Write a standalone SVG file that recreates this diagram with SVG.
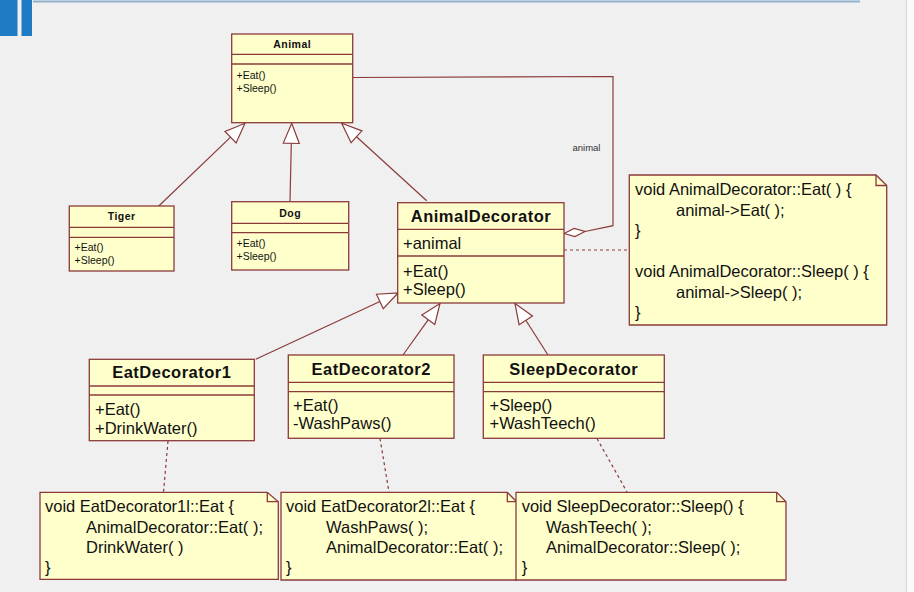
<svg xmlns="http://www.w3.org/2000/svg" width="914" height="592" viewBox="0 0 914 592">
<style>
.box{fill:#ffffcc;stroke:#8b3a3a;stroke-width:1.3}
.sep{stroke:#8b3a3a;stroke-width:1.3;fill:none}
.ln{stroke:#8b3a3a;stroke-width:1.2;fill:none}
.dash{stroke:#8b3a3a;stroke-width:1.2;fill:none;stroke-dasharray:3,3}
.tri{fill:#ffffff;stroke:#8b3a3a;stroke-width:1.2}
.sn{font-family:"Liberation Sans",Arial,sans-serif;font-size:10.5px;font-weight:bold;letter-spacing:0.5px;fill:#111;text-anchor:middle}
.sm{font-family:"Liberation Sans",Arial,sans-serif;font-size:10.5px;fill:#111}
.bn{font-family:"Liberation Sans",Arial,sans-serif;font-size:16.5px;font-weight:bold;letter-spacing:0.5px;fill:#111;text-anchor:middle}
.bm{font-family:"Liberation Sans",Arial,sans-serif;font-size:16.5px;fill:#111}
.lbl{font-family:"Liberation Sans",Arial,sans-serif;font-size:9.5px;fill:#333;text-anchor:middle}
</style>
<rect x="0" y="0" width="914" height="592" fill="#f0f0f0"/>
<rect x="906" y="0" width="8" height="592" fill="#fafafa"/>
<line x1="906.5" y1="0" x2="906.5" y2="592" stroke="#d6d6d6" stroke-width="1"/>
<rect x="0" y="0" width="17.5" height="36" fill="#1f7bc4"/>
<rect x="21.5" y="0" width="10.5" height="36" fill="#1f7bc4"/>
<line x1="33" y1="1.5" x2="860" y2="1.5" stroke="#8fb0cc" stroke-width="2"/>

<g id="connectors">
  <!-- generalizations -->
  <line class="ln" x1="158" y1="206.7" x2="230.6" y2="137.1"/>
  <polygon class="tri" points="245,123.3 236.1,142.9 225,131.4"/>
  <line class="ln" x1="290" y1="201.7" x2="291.3" y2="143.3"/>
  <polygon class="tri" points="291.7,123.3 299.3,143.5 283.3,143.1"/>
  <line class="ln" x1="426.7" y1="200.7" x2="356.5" y2="136.8"/>
  <polygon class="tri" points="341.7,123.3 361.9,130.85 351.1,142.7"/>
  <line class="ln" x1="255.7" y1="359.3" x2="379.9" y2="301.5"/>
  <polygon class="tri" points="398,293 383.25,308.7 376.5,294.2"/>
  <line class="ln" x1="403" y1="355" x2="428.3" y2="319.7"/>
  <polygon class="tri" points="440,303.5 434.8,324.4 421.8,315.1"/>
  <line class="ln" x1="548" y1="355" x2="525.8" y2="320.3"/>
  <polygon class="tri" points="515,303.5 532.5,316 519.1,324.7"/>
  <!-- association -->
  <polyline class="ln" points="353,77.5 613,76.5 613,225.7 585,231.5"/>
  <polygon class="tri" points="564,233.5 574.9,236.5 585,231.5 574.1,228.5"/>
  <text class="lbl" x="586.5" y="150.5">animal</text>
  <!-- note anchors -->
  <line class="dash" x1="564" y1="250" x2="629" y2="250"/>
  <line class="dash" x1="168" y1="441" x2="163.5" y2="492"/>
  <line class="dash" x1="380" y1="438.5" x2="389" y2="492"/>
  <line class="dash" x1="597" y1="438.5" x2="627" y2="492"/>
</g>

<g id="Animal">
  <rect class="box" x="231.7" y="34" width="121" height="88.7"/>
  <line class="sep" x1="231.7" y1="54.3" x2="352.7" y2="54.3"/>
  <line class="sep" x1="231.7" y1="64" x2="352.7" y2="64"/>
  <text class="sn" x="292.2" y="48">Animal</text>
  <text class="sm" x="236.5" y="79">+Eat()</text>
  <text class="sm" x="236.5" y="91.5">+Sleep()</text>
</g>

<g id="Tiger">
  <rect class="box" x="69.3" y="206" width="104.7" height="65"/>
  <line class="sep" x1="69.3" y1="227.3" x2="174" y2="227.3"/>
  <line class="sep" x1="69.3" y1="237.3" x2="174" y2="237.3"/>
  <text class="sn" x="121.7" y="220">Tiger</text>
  <text class="sm" x="74.5" y="250.5">+Eat()</text>
  <text class="sm" x="74.5" y="264">+Sleep()</text>
</g>

<g id="Dog">
  <rect class="box" x="231.7" y="201.7" width="117" height="68.3"/>
  <line class="sep" x1="231.7" y1="223.3" x2="348.7" y2="223.3"/>
  <line class="sep" x1="231.7" y1="232.7" x2="348.7" y2="232.7"/>
  <text class="sn" x="290.2" y="217">Dog</text>
  <text class="sm" x="236.5" y="247">+Eat()</text>
  <text class="sm" x="236.5" y="260">+Sleep()</text>
</g>

<g id="AnimalDecorator">
  <rect class="box" x="397.7" y="202.7" width="166.3" height="100.3"/>
  <line class="sep" x1="397.7" y1="229.3" x2="564" y2="229.3"/>
  <line class="sep" x1="397.7" y1="256" x2="564" y2="256"/>
  <text class="bn" x="481" y="222">AnimalDecorator</text>
  <text class="bm" x="403" y="249">+animal</text>
  <text class="bm" x="403" y="276.5">+Eat()</text>
  <text class="bm" x="403" y="295">+Sleep()</text>
</g>

<g id="EatDecorator1">
  <rect class="box" x="89.3" y="359.3" width="165" height="81.4"/>
  <line class="sep" x1="89.3" y1="386" x2="254.3" y2="386"/>
  <line class="sep" x1="89.3" y1="395" x2="254.3" y2="395"/>
  <text class="bn" x="171.8" y="378">EatDecorator1</text>
  <text class="bm" x="95" y="415">+Eat()</text>
  <text class="bm" x="95" y="434">+DrinkWater()</text>
</g>

<g id="EatDecorator2">
  <rect class="box" x="288.3" y="355" width="165.7" height="83.3"/>
  <line class="sep" x1="288.3" y1="382.3" x2="454" y2="382.3"/>
  <line class="sep" x1="288.3" y1="391.7" x2="454" y2="391.7"/>
  <text class="bn" x="371.2" y="375">EatDecorator2</text>
  <text class="bm" x="293" y="411">+Eat()</text>
  <text class="bm" x="293" y="429">-WashPaws()</text>
</g>

<g id="SleepDecorator">
  <rect class="box" x="483.3" y="355" width="181" height="83.3"/>
  <line class="sep" x1="483.3" y1="382.3" x2="664.3" y2="382.3"/>
  <line class="sep" x1="483.3" y1="391.7" x2="664.3" y2="391.7"/>
  <text class="bn" x="573.8" y="375">SleepDecorator</text>
  <text class="bm" x="489.5" y="411">+Sleep()</text>
  <text class="bm" x="489.5" y="429">+WashTeech()</text>
</g>

<g id="NoteAnimalDecorator">
  <path class="box" d="M629.3,175 H876 L886.7,185.5 V325 H629.3 Z"/>
  <path class="sep" d="M876,175 V185.5 H886.7"/>
  <text class="bm" x="635" y="195">void AnimalDecorator::Eat( ) {</text>
  <text class="bm" x="676" y="215.5">animal-&gt;Eat( );</text>
  <text class="bm" x="635" y="236">}</text>
  <text class="bm" x="635" y="277">void AnimalDecorator::Sleep( ) {</text>
  <text class="bm" x="676" y="297.5">animal-&gt;Sleep( );</text>
  <text class="bm" x="635" y="318">}</text>
</g>

<g id="NoteEatDecorator1">
  <path class="box" d="M40,492.3 H267.3 L278.3,501.7 V579.3 H40 Z"/>
  <path class="sep" d="M267.3,492.3 V501.7 H278.3"/>
  <text class="bm" x="45" y="512">void EatDecorator1l::Eat {</text>
  <text class="bm" x="86" y="532.5">AnimalDecorator::Eat( );</text>
  <text class="bm" x="86" y="552.5">DrinkWater( )</text>
  <text class="bm" x="45" y="573">}</text>
</g>

<g id="NoteEatDecorator2">
  <path class="box" d="M281,492.3 H507.3 L516.7,501.7 V580 H281 Z"/>
  <path class="sep" d="M507.3,492.3 V501.7 H516.7"/>
  <text class="bm" x="286" y="512">void EatDecorator2l::Eat {</text>
  <text class="bm" x="326" y="532.5">WashPaws( );</text>
  <text class="bm" x="326" y="552.5">AnimalDecorator::Eat( );</text>
  <text class="bm" x="286" y="573">}</text>
</g>

<g id="NoteSleepDecorator">
  <path class="box" d="M516,492.3 H776.7 L786,501.7 V580 H516 Z"/>
  <path class="sep" d="M776.7,492.3 V501.7 H786"/>
  <text class="bm" x="521.7" y="512">void SleepDecorator::Sleep() {</text>
  <text class="bm" x="546" y="532.5">WashTeech( );</text>
  <text class="bm" x="546" y="552.5">AnimalDecorator::Sleep( );</text>
  <text class="bm" x="521.7" y="573">}</text>
</g>
</svg>
